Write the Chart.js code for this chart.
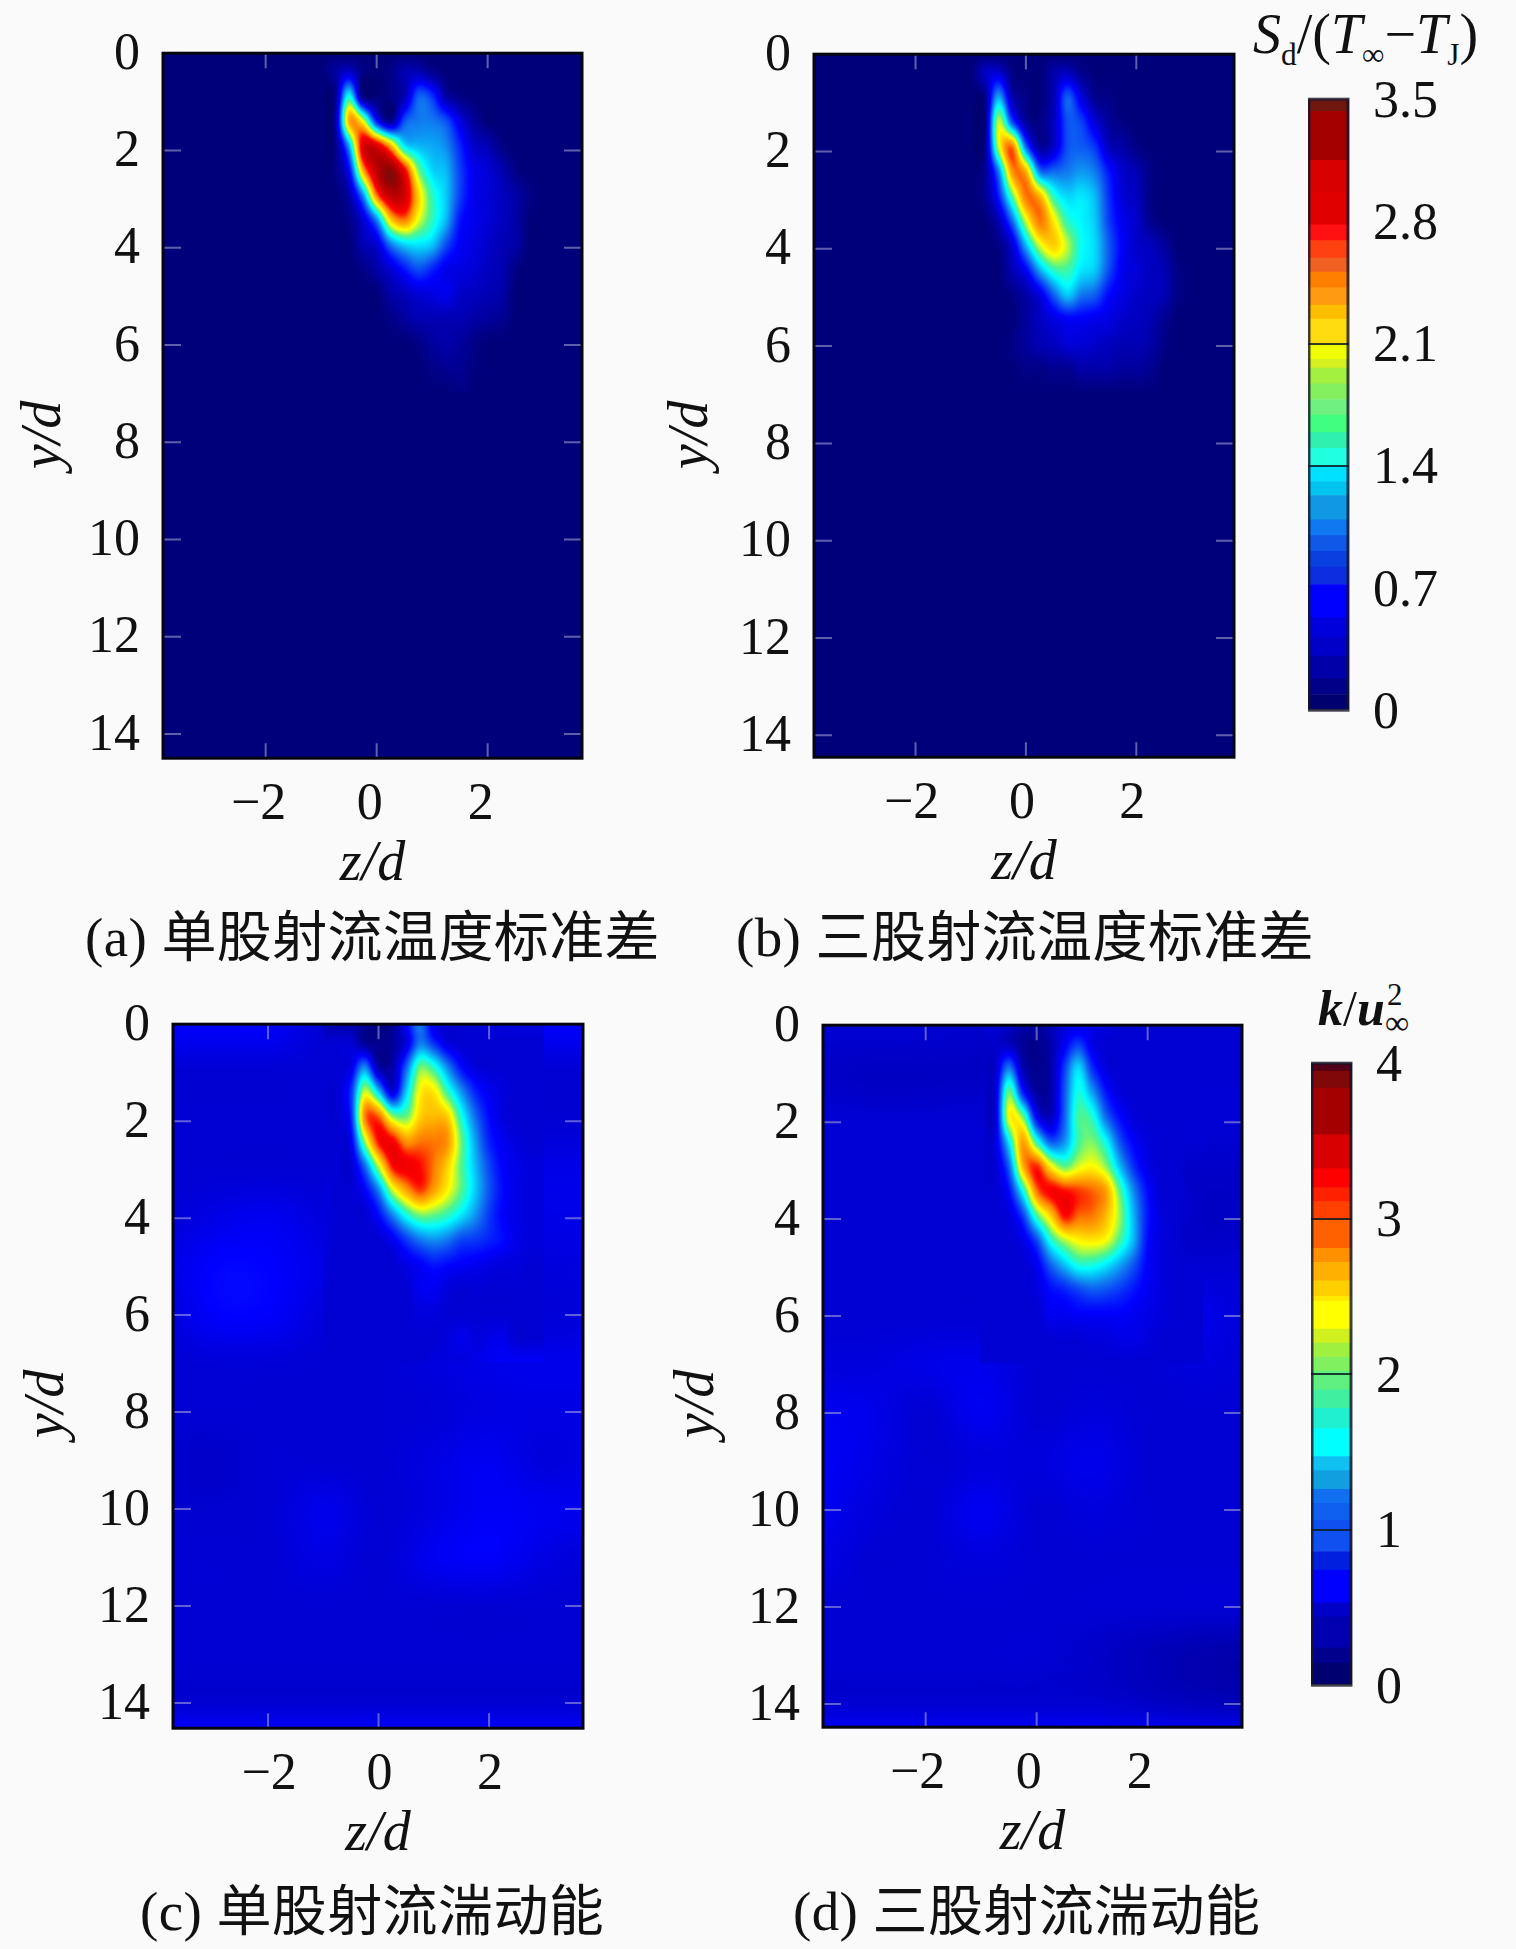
<!DOCTYPE html>
<html>
<head>
<meta charset="utf-8">
<title>jet</title>
<script src="https://cdn.jsdelivr.net/npm/chart.js@4/dist/chart.umd.min.js"></script>
<style>
html, body { margin: 0; padding: 0; background: #fafafa; }
#page { position: relative; width: 1516px; height: 1949px; overflow: hidden; background: #fafafa; }
canvas { position: absolute; }
.txt { position: absolute; white-space: nowrap; color: #111; font-family: "Liberation Serif", "Noto Sans CJK SC", serif; }
.cap { font-size: 55px; line-height: 64px; letter-spacing: 0.4px; }
.axt { font-size: 56px; line-height: 60px; font-style: italic; transform: translate(-50%, -50%) rotate(-90deg); }
sub { font-size: 56%; line-height: 0; font-style: normal; }
</style>
</head>
<body>
<div id="page">
  <div class="txt axt" style="left:41px;top:435px">y/d</div>
  <div class="txt axt" style="left:688px;top:435px">y/d</div>
  <div class="txt axt" style="left:44px;top:1404px">y/d</div>
  <div class="txt axt" style="left:694px;top:1404px">y/d</div>
  <div class="txt cap" style="left:85px;top:906px">(a) 单股射流温度标准差</div>
  <div class="txt cap" style="left:736px;top:906px">(b) 三股射流温度标准差</div>
  <div class="txt cap" style="left:140px;top:1880px">(c) 单股射流湍动能</div>
  <div class="txt cap" style="left:793px;top:1880px">(d) 三股射流湍动能</div>
  <div class="txt" style="left:1253px;top:2px;font-size:56px;line-height:64px"><i>S</i><sub>d</sub>/(<i>T</i><sub>∞</sub>−<i>T</i><sub>J</sub>)</div>
  <div class="txt" style="left:1318px;top:978px;font-size:50px;line-height:60px"><b><i>k</i></b>/<b><i>u</i></b></div>
  <div class="txt" style="left:1387px;top:980px;font-size:31px;line-height:30px">2</div>
  <div class="txt" style="left:1385px;top:1008px;font-size:34px;line-height:30px">∞</div>
</div>
<script>
// axes
var xTicks = [-2, 0, 2];
var yTicks = [0, 2, 4, 6, 8, 10, 12, 14];
var barTicks1 = [0, 0.7, 1.4, 2.1, 2.8, 3.5];
var barTicks2 = [0, 1, 2, 3, 4];

// colour scale: position along bar and colour
var jetPos = [0, 0.18, 0.30, 0.42, 0.49, 0.58, 0.71, 0.78, 0.93, 1];
var jetCol = [[0,0,112],[0,0,255],[16,120,240],[0,255,255],[80,245,140],[255,255,0],[255,128,0],[255,0,0],[165,0,0],[100,16,16]];

// colour bar bands
var bandEdges1 = [0,0.09,0.18,0.31,0.42,0.53,0.72,0.82,0.91,1.0,1.09,1.23,1.31,1.4,1.5,1.59,1.69,1.78,1.87,1.96,2.01,2.1,2.24,2.32,2.42,2.51,2.59,2.69,2.78,2.97,3.15,3.43,3.5];
var bandCols1 = ["#000070","#000088","#0000a8","#0000c8","#0000dc","#0000ff","#0a2ee0","#0a40e0","#1058e8","#1078f0","#1098e4","#00c4f0","#00e0ff","#20ffe0","#30f0b0","#40ff80","#70f080","#84f060","#a4f040","#d4f020","#f0ff00","#ffdc10","#ffbe00","#ff9a10","#ff8000","#f06020","#ff4010","#ff1010","#e00000","#d80000","#a50000","#701810"];
var bandEdges2 = [0,0.14,0.24,0.44,0.53,0.74,0.86,1.06,1.17,1.26,1.38,1.47,1.65,1.78,1.9,2.02,2.11,2.2,2.29,2.47,2.5,2.6,2.72,2.81,2.99,3.11,3.2,3.32,3.54,3.84,3.95,4];
var bandCols2 = ["#000070","#00008c","#0000b0","#0000c8","#0000ff","#0020e0","#1050f0","#1060f0","#1070f0","#10a0e0","#10c0f0","#00ffff","#20f0d0","#40f0a0","#60f080","#80f060","#a0f040","#d0f020","#ffff00","#ffe800","#ffd000","#ffb000","#ff9000","#ff6000","#ff4000","#ff2000","#ff0000","#d80000","#a50000","#800808","#500018"];

// jet region grid, all panels
var zNear = [-1,-0.75,-0.5,-0.25,0,0.25,0.5,0.75,1,1.25,1.5,1.75,2,2.25,2.5,2.75,3];
var yNear = [0,0.38,0.885,1.39,1.9,2.41,2.92,3.42,3.93,4.44,4.95,5.45,5.96,6.47,6.98];

var nearA = [
[.05,.05,.05,.05,.05,.05,.05,.05,.05,.05,.05,.05,.05,.05,.05,.05,.05],
[.05,.2,.4,.1,.05,.1,.3,.3,.15,.05,.05,.05,.05,.05,.05,.05,.05],
[.05,.1,1.5,.1,.05,.1,.3,.95,.8,.25,.1,.05,.05,.05,.05,.05,.05],
[.05,.2,2.3,2.0,.7,.15,.9,1.05,1.05,.9,.5,.2,.05,.05,.05,.05,.05],
[.05,.1,1.2,2.9,2.9,2.3,1.4,1.25,1.2,1.1,.75,.4,.3,.1,.05,.05,.05],
[.05,.1,.6,2.3,3.1,3.35,2.8,1.8,1.35,1.25,.85,.55,.45,.3,.1,.05,.05],
[.05,.05,.25,1.1,2.5,3.1,3.0,2.2,1.6,1.3,.85,.55,.45,.35,.25,.1,.05],
[.05,.05,.1,.45,1.1,2.2,2.5,2.0,1.6,1.25,.7,.55,.45,.35,.25,.05,.05],
[.05,.05,.05,.3,.45,1.05,1.35,1.4,1.3,.9,.6,.5,.4,.3,.25,.05,.05],
[.05,.05,.05,.1,.25,.45,.7,.9,.75,.55,.5,.45,.35,.3,.1,.05,.05],
[.05,.05,.05,.05,.05,.25,.35,.45,.5,.55,.4,.35,.3,.25,.05,.05,.05],
[.05,.05,.05,.05,.05,.1,.2,.3,.3,.3,.3,.25,.2,.15,.05,.05,.05],
[.05,.05,.05,.05,.05,.05,.05,.1,.2,.25,.2,.1,.05,.05,.05,.05,.05],
[.05,.05,.05,.05,.05,.05,.05,.05,.1,.15,.15,.08,.05,.05,.05,.05,.05],
[.05,.05,.05,.05,.05,.05,.05,.05,.05,.05,.1,.05,.05,.05,.05,.05,.05]
];
var nearB = [
[.05,.05,.05,.05,.05,.05,.05,.05,.05,.05,.05,.05,.05,.05,.05,.05,.05],
[.05,.35,.45,.1,.05,.05,.25,.35,.15,.05,.05,.05,.05,.05,.05,.05,.05],
[.05,.1,1.2,.3,.1,.05,.3,.95,.5,.15,.1,.05,.05,.05,.05,.05,.05],
[.05,.05,1.9,.9,.2,.1,.35,.9,.85,.45,.2,.08,.05,.05,.05,.05,.05],
[.05,.1,1.9,2.5,1.0,.2,.4,.9,.95,.8,.35,.25,.1,.05,.05,.05,.05],
[.05,.15,1.05,2.4,2.3,1.05,1.0,1.05,1.15,1.05,.7,.4,.3,.1,.05,.05,.05],
[.05,.15,.7,1.7,2.5,2.3,1.6,1.35,1.4,1.25,.8,.45,.35,.1,.05,.05,.05],
[.05,.05,.3,1.0,1.95,2.5,2.1,1.6,1.45,1.3,.85,.55,.4,.15,.05,.05,.05],
[.05,.05,.1,.45,1.25,1.95,2.2,1.9,1.5,1.35,.95,.6,.4,.35,.2,.05,.05],
[.05,.05,.05,.3,.6,1.2,1.6,1.65,1.4,1.3,.9,.55,.45,.35,.3,.1,.05],
[.05,.05,.05,.1,.25,.5,.95,1.3,1.05,.95,.65,.5,.4,.35,.3,.1,.05],
[.05,.05,.05,.05,.2,.35,.5,.6,.6,.55,.5,.4,.35,.3,.15,.05,.05],
[.05,.05,.05,.1,.2,.3,.35,.45,.45,.4,.35,.3,.3,.25,.1,.05,.05],
[.05,.05,.05,.05,.1,.1,.15,.15,.25,.25,.25,.2,.2,.15,.05,.05,.05],
[.05,.05,.05,.05,.05,.05,.05,.05,.05,.05,.05,.05,.05,.05,.05,.05,.05]
];
var nearC = [
[.35,.3,.3,.2,.1,.2,.7,1.2,.6,.5,.5,.5,.55,.55,.55,.55,.55],
[.5,.5,.5,.2,.15,.2,.55,1.2,.9,.55,.5,.5,.5,.5,.5,.5,.5],
[.5,.5,.6,1.25,.3,.3,1.1,2.0,1.8,1.25,.75,.55,.5,.5,.5,.5,.5],
[.5,.5,.9,2.2,1.5,.55,1.5,2.35,2.4,1.85,1.3,.85,.65,.55,.5,.5,.5],
[.5,.5,.85,2.8,2.9,2.1,2.0,2.5,2.6,2.5,1.75,1.15,.75,.55,.5,.5,.5],
[.5,.5,.65,2.1,3.1,3.15,2.75,2.85,2.85,2.75,2.0,1.35,.85,.65,.55,.5,.5],
[.5,.5,.5,1.15,2.2,3.1,3.2,3.1,2.85,2.5,1.95,1.45,1.0,.7,.6,.55,.55],
[.55,.5,.5,.7,1.25,2.2,2.7,3.0,2.7,2.35,1.95,1.5,1.05,.75,.6,.55,.55],
[.55,.5,.5,.5,.75,1.25,1.75,2.05,2.0,1.85,1.6,1.3,.95,.7,.6,.55,.55],
[.55,.5,.5,.5,.5,.65,.95,1.2,1.3,1.2,1.0,.95,.85,.75,.6,.55,.55],
[.55,.5,.5,.5,.5,.5,.6,.7,.8,.75,.7,.65,.6,.55,.55,.5,.5],
[.5,.5,.5,.5,.5,.5,.5,.65,.65,.55,.5,.52,.5,.5,.5,.5,.5],
[.5,.5,.5,.5,.5,.5,.5,.55,.55,.5,.5,.5,.5,.5,.5,.5,.5],
[.5,.5,.5,.5,.5,.5,.5,.5,.5,.55,.62,.55,.6,.62,.5,.5,.5],
[.5,.5,.5,.5,.5,.5,.5,.5,.55,.55,.55,.6,.65,.68,.7,.7,.7]
];
var nearD = [
[.5,.5,.45,.3,.25,.35,.55,.6,.6,.55,.5,.5,.5,.5,.5,.5,.5],
[.45,.45,.4,.2,.15,.3,.65,.95,.6,.5,.5,.5,.5,.5,.5,.5,.5],
[.45,.45,1.2,.35,.15,.3,.95,1.55,.9,.55,.5,.5,.5,.5,.5,.5,.5],
[.5,.5,2.0,.85,.25,.3,1.05,1.75,1.35,.8,.55,.5,.5,.5,.5,.5,.5],
[.5,.5,2.3,2.05,.7,.4,1.1,1.9,1.8,1.15,.75,.55,.5,.5,.5,.5,.5],
[.5,.55,1.6,2.7,1.85,1.1,1.3,1.9,2.05,1.7,1.05,.7,.55,.5,.5,.5,.5],
[.5,.5,1.1,2.6,3.05,2.4,2.0,2.25,2.35,2.1,1.45,.9,.6,.5,.5,.45,.45],
[.5,.5,.75,1.7,2.85,3.15,3.1,3.0,2.9,2.7,1.95,1.25,.75,.5,.5,.45,.45],
[.5,.5,.55,.95,1.9,2.5,3.1,2.9,2.85,2.6,2.1,1.4,.8,.55,.5,.45,.45],
[.5,.5,.5,.6,1.0,1.75,2.15,2.35,2.4,2.3,1.9,1.4,.75,.55,.5,.45,.45],
[.5,.5,.5,.5,.65,1.1,1.45,1.75,1.75,1.6,1.35,1.05,.7,.55,.5,.5,.5],
[.5,.5,.5,.5,.55,.75,.85,1.0,1.1,1.05,.95,.8,.65,.55,.5,.5,.5],
[.5,.5,.5,.5,.5,.65,.65,.7,.7,.7,.7,.65,.6,.55,.5,.5,.5],
[.5,.5,.5,.5,.5,.5,.52,.52,.55,.55,.6,.6,.55,.5,.5,.5,.5],
[.5,.5,.5,.5,.5,.5,.5,.5,.5,.5,.5,.5,.5,.5,.5,.5,.5]
];

// outer field, coarse
var zFar = [-4,-3,-2,-1,0,1,2,3,4];
var yFar = [0,1,2,3,4,5,6,7,8,9,10,11,12,13,14,15];
var zFlat = [-4,4];
var yFlat = [0,15];
var farFlat = [[.05,.05],[.05,.05]];
var farC = [
[.7,.7,.7,.5,.4,.5,.7,.7,.7],
[.5,.5,.5,.5,.5,.5,.5,.5,.5],
[.5,.5,.5,.5,.5,.5,.5,.5,.5],
[.5,.5,.5,.5,.5,.5,.55,.6,.6],
[.5,.6,.65,.55,.5,.5,.55,.6,.6],
[.55,.72,.72,.6,.5,.5,.55,.55,.55],
[.5,.7,.7,.55,.5,.5,.55,.52,.55],
[.5,.52,.52,.5,.5,.55,.6,.62,.62],
[.5,.5,.5,.5,.5,.52,.58,.58,.58],
[.48,.45,.5,.5,.5,.58,.65,.55,.6],
[.48,.48,.5,.62,.5,.58,.68,.65,.62],
[.5,.5,.5,.58,.5,.65,.7,.58,.52],
[.5,.5,.5,.5,.5,.5,.5,.5,.5],
[.5,.5,.5,.5,.5,.5,.5,.5,.5],
[.5,.5,.5,.5,.5,.5,.5,.5,.5],
[.85,.85,.85,.85,.85,.85,.85,.85,.85]
];
var farD = [
[.5,.5,.5,.45,.3,.5,.5,.5,.5],
[.45,.42,.42,.42,.3,.5,.5,.5,.5],
[.5,.5,.5,.5,.5,.5,.5,.5,.5],
[.5,.5,.5,.5,.5,.5,.5,.45,.45],
[.5,.5,.5,.5,.5,.5,.5,.42,.45],
[.5,.5,.5,.5,.5,.5,.5,.5,.5],
[.5,.5,.5,.5,.5,.5,.55,.6,.5],
[.55,.55,.6,.62,.5,.5,.5,.55,.5],
[.65,.62,.5,.65,.5,.55,.5,.5,.5],
[.68,.6,.5,.55,.55,.62,.5,.5,.5],
[.66,.55,.5,.65,.5,.55,.5,.5,.5],
[.6,.5,.5,.55,.5,.5,.5,.5,.5],
[.5,.5,.5,.5,.5,.5,.5,.5,.5],
[.5,.5,.5,.5,.5,.45,.38,.32,.3],
[.5,.5,.5,.5,.5,.5,.45,.4,.38],
[.85,.85,.85,.85,.85,.85,.85,.85,.85]
];

var panels = [
  { id: "a", left: 163, right: 582, top: 53, bottom: 758, zMin: -3.85, zMax: 3.70, yMax: 14.5, labelOffset: -7, scaleMax: 3.5, near: nearA, far: farFlat, zF: zFlat, yF: yFlat },
  { id: "b", left: 814, right: 1234, top: 54, bottom: 757, zMin: -3.84, zMax: 3.77, yMax: 14.45, labelOffset: -4, scaleMax: 3.5, near: nearB, far: farFlat, zF: zFlat, yF: yFlat },
  { id: "c", left: 173, right: 583, top: 1024, bottom: 1728, zMin: -3.72, zMax: 3.70, yMax: 14.52, labelOffset: 1, scaleMax: 4, near: nearC, far: farC, zF: zFar, yF: yFar },
  { id: "d", left: 823, right: 1242, top: 1025, bottom: 1727, zMin: -3.85, zMax: 3.70, yMax: 14.48, labelOffset: -8, scaleMax: 4, near: nearD, far: farD, zF: zFar, yF: yFar }
];

var serif = "'Liberation Serif', serif";

function findCell(list, v) {
    var i = 0;
    while (i < list.length - 2 && v > list[i + 1]) { i++; }
    return i;
}

function cubic(a, b, c, d, t) {
    return b + 0.5 * t * (c - a + t * (2 * a - 5 * b + 4 * c - d + t * (3 * (b - c) + d - a)));
}

// smooth read of the grid between its nodes (only for shading)
function sample(zs, ys, grid, z, y) {
    var i = findCell(zs, z), j = findCell(ys, y);
    var a = Math.min(1, Math.max(0, (z - zs[i]) / (zs[i + 1] - zs[i])));
    var b = Math.min(1, Math.max(0, (y - ys[j]) / (ys[j + 1] - ys[j])));
    var rows = [];
    for (var r = -1; r <= 2; r++) {
        var row = grid[Math.min(ys.length - 1, Math.max(0, j + r))];
        var i0 = Math.max(0, i - 1), i2 = Math.min(zs.length - 1, i + 1), i3 = Math.min(zs.length - 1, i + 2);
        rows.push(cubic(row[i0], row[i], row[i2], row[i3], a));
    }
    return Math.max(0, cubic(rows[0], rows[1], rows[2], rows[3], b));
}

function jet(t) {
    var i = findCell(jetPos, t);
    var a = Math.min(1, Math.max(0, (t - jetPos[i]) / (jetPos[i + 1] - jetPos[i])));
    return [0, 1, 2].map(function (k) { return jetCol[i][k] + (jetCol[i + 1][k] - jetCol[i][k]) * a; });
}

// shades the field under the axes, every pixel goes through the chart scales
function heatPlugin(p) {
    return {
        id: "heat",
        beforeDatasetsDraw: function (chart) {
            var area = chart.chartArea, xs = chart.scales.x, ys = chart.scales.y;
            var w = Math.round(area.right - area.left), h = Math.round(area.bottom - area.top);
            var off = document.createElement("canvas");
            off.width = w; off.height = h;
            var octx = off.getContext("2d");
            var img = octx.createImageData(w, h);
            for (var py = 0; py < h; py++) {
                var y = ys.getValueForPixel(area.top + py + 0.5);
                for (var px = 0; px < w; px++) {
                    var z = xs.getValueForPixel(area.left + px + 0.5);
                    var inNear = z >= zNear[0] && z <= zNear[zNear.length - 1] && y <= yNear[yNear.length - 1];
                    var v = inNear ? sample(zNear, yNear, p.near, z, y) : sample(p.zF, p.yF, p.far, z, y);
                    var c = jet(v / p.scaleMax), n = (py * w + px) * 4;
                    img.data[n] = c[0]; img.data[n + 1] = c[1]; img.data[n + 2] = c[2]; img.data[n + 3] = 255;
                }
            }
            octx.putImageData(img, 0, 0);
            chart.ctx.drawImage(off, area.left, area.top);
        },
        afterDraw: function (chart) {
            var ctx = chart.ctx, area = chart.chartArea;
            ctx.save();
            // small inward tick marks on all four sides
            ctx.strokeStyle = "rgba(190,190,225,0.5)";
            ctx.lineWidth = 2;
            xTicks.forEach(function (t) {
                var px = chart.scales.x.getPixelForValue(t);
                ctx.beginPath();
                ctx.moveTo(px, area.top); ctx.lineTo(px, area.top + 15);
                ctx.moveTo(px, area.bottom); ctx.lineTo(px, area.bottom - 15);
                ctx.stroke();
            });
            yTicks.forEach(function (t) {
                if (t === 0) { return; }
                var py = chart.scales.y.getPixelForValue(t);
                ctx.beginPath();
                ctx.moveTo(area.left, py); ctx.lineTo(area.left + 18, py);
                ctx.moveTo(area.right, py); ctx.lineTo(area.right - 18, py);
                ctx.stroke();
            });
            ctx.strokeStyle = "#050510";
            ctx.lineWidth = 3;
            ctx.strokeRect(area.left, area.top, area.right - area.left, area.bottom - area.top);
            ctx.restore();
        }
    };
}

function addCanvas(width, height) {
    var c = document.createElement("canvas");
    c.width = width; c.height = height;
    document.getElementById("page").appendChild(c);
    return c;
}

// the layout insets the area by a few pixels: grow the canvas to fit and slide it into place
function placeChart(chart, left, right, top, bottom) {
    var a = chart.chartArea;
    var extraW = (right - left) - (a.right - a.left);
    var extraH = (bottom - top) - (a.bottom - a.top);
    if (extraW !== 0 || extraH !== 0) {
        chart.resize(chart.width + extraW, chart.height + extraH);
    }
    a = chart.chartArea;
    chart.canvas.style.position = "absolute";
    chart.canvas.style.left = (left - a.left) + "px";
    chart.canvas.style.top = (top - a.top) + "px";
}

function drawPanel(p) {
    var padL = 150, padT = 40, padR = 10, padB = 146;
    var cv = addCanvas(p.right - p.left + padL + padR, p.bottom - p.top + padT + padB);
    var points = [];
    yNear.forEach(function (y, j) {
        zNear.forEach(function (z, i) { points.push({ x: z, y: y, v: p.near[j][i] }); });
    });
    var chart = new Chart(cv, {
        type: "scatter",
        data: { datasets: [{ label: p.id, data: points, pointRadius: 0, showLine: false }] },
        options: {
            responsive: false,
            maintainAspectRatio: false,
            animation: false,
            devicePixelRatio: 1,
            layout: { padding: { top: padT, right: padR } },
            plugins: { legend: { display: false }, tooltip: { enabled: false } },
            scales: {
                x: {
                    type: "linear", min: p.zMin, max: p.zMax,
                    grid: { display: false, drawTicks: false },
                    border: { display: false },
                    afterBuildTicks: function (s) { s.ticks = xTicks.map(function (v) { return { value: v }; }); },
                    afterFit: function (s) { s.height = padB; },
                    ticks: {
                        autoSkip: false, maxRotation: 0, padding: 16, labelOffset: p.labelOffset, color: "#111",
                        font: { family: serif, size: 52 },
                        callback: function (v) { return v < 0 ? "\u2212" + Math.abs(v) : String(v); }
                    },
                    title: { display: true, text: "z/d", color: "#111", padding: { top: 0, bottom: 5 }, font: { family: serif, size: 56, style: "italic" } }
                },
                y: {
                    type: "linear", min: 0, max: p.yMax, reverse: true,
                    grid: { display: false, drawTicks: false },
                    border: { display: false },
                    afterBuildTicks: function (s) { s.ticks = yTicks.map(function (v) { return { value: v }; }); },
                    afterFit: function (s) { s.width = padL; },
                    ticks: { autoSkip: false, padding: 23, labelOffset: 2, color: "#111", font: { family: serif, size: 52 } }
                }
            }
        },
        plugins: [heatPlugin(p)]
    });
    placeChart(chart, p.left, p.right, p.top, p.bottom);
}

function drawBar(left, right, top, bottom, vMax, edges, cols, ticks, lines) {
    var padT = 40, padB = 40, padR = 100;
    var cv = addCanvas(right - left + padR, bottom - top + padT + padB);
    var sets = cols.map(function (c, i) {
        return { data: [[edges[i], edges[i + 1]]], backgroundColor: c, borderWidth: 0, grouped: false, barPercentage: 1, categoryPercentage: 1 };
    });
    var chart = new Chart(cv, {
        type: "bar",
        data: { labels: [""], datasets: sets },
        options: {
            responsive: false,
            maintainAspectRatio: false,
            animation: false,
            devicePixelRatio: 1,
            layout: { padding: { top: padT, bottom: padB } },
            plugins: { legend: { display: false }, tooltip: { enabled: false } },
            scales: {
                x: { display: false },
                y: {
                    position: "right", min: 0, max: vMax,
                    border: { display: false },
                    grid: {
                        z: 1, drawTicks: false, lineWidth: 2,
                        color: function (ctx) { return lines.indexOf(ctx.tick.value) >= 0 ? "rgba(10,30,30,0.85)" : "rgba(0,0,0,0)"; }
                    },
                    afterBuildTicks: function (s) { s.ticks = ticks.map(function (v) { return { value: v }; }); },
                    afterFit: function (s) { s.width = padR; },
                    ticks: {
                        autoSkip: false, padding: 24, labelOffset: 4, color: "#111",
                        font: { family: serif, size: 52 },
                        callback: function (v) { return String(v); }
                    }
                }
            }
        },
        plugins: [{
            id: "barFrame",
            afterDraw: function (chart) {
                var ctx = chart.ctx, a = chart.chartArea;
                ctx.save();
                ctx.strokeStyle = "rgba(20,20,40,0.8)";
                ctx.lineWidth = 3;
                ctx.strokeRect(a.left + 1, a.top, a.right - a.left - 2, a.bottom - a.top);
                ctx.restore();
            }
        }]
    });
    placeChart(chart, left, right, top, bottom);
}

panels.forEach(drawPanel);
drawBar(1308, 1349, 99, 710, 3.5, bandEdges1, bandCols1, barTicks1, [1.4, 2.1]);
drawBar(1311, 1352, 1063, 1685, 4, bandEdges2, bandCols2, barTicks2, [1, 2, 3]);
</script>
</body>
</html>
